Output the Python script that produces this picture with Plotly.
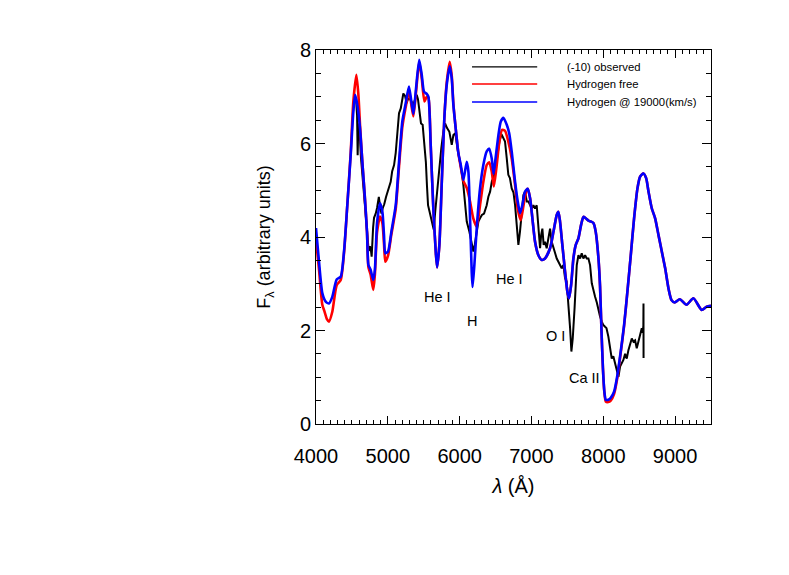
import plotly.graph_objects as go

# ---------------- data ----------------
obs_x = [4545, 4560, 4572, 4580, 4588, 4603, 4625, 4650, 4673, 4690, 4700, 4715, 4725, 4734, 4750, 4762, 4775,
         4785, 4795, 4808, 4831, 4850, 4864, 4875, 4890, 4911, 4930, 4950, 4976, 5000, 5020, 5040, 5060, 5087,
         5110, 5133, 5156, 5180, 5200, 5216, 5240, 5262, 5280, 5300, 5330, 5355, 5380, 5402, 5420, 5439, 5462,
         5485, 5514, 5530, 5545, 5560, 5580, 5600, 5615, 5639, 5660, 5690, 5718, 5745, 5773, 5797, 5825, 5857,
         5875, 5890, 5913, 5940, 5969, 5995, 6029, 6052, 6075, 6099, 6136, 6168, 6191, 6210, 6238, 6261, 6284,
         6310, 6340, 6377, 6400, 6424, 6450, 6470, 6493, 6526, 6554, 6582, 6609, 6632, 6656, 6678, 6700, 6725,
         6750, 6772, 6795, 6818, 6840, 6864, 6888, 6911, 6935, 6958, 6981, 7004, 7027, 7050, 7073, 7097, 7120,
         7135, 7152, 7170, 7189, 7212, 7236, 7259, 7282, 7306, 7330, 7352, 7375, 7398, 7421, 7445, 7468, 7490,
         7515, 7538, 7556, 7575, 7600, 7617, 7631, 7654, 7677, 7700, 7723, 7747, 7770, 7793, 7816, 7840, 7862,
         7886, 7910, 7932, 7955, 7979, 8000, 8025, 8045, 8071, 8095, 8118, 8140, 8164, 8188, 8211, 8234, 8257,
         8280, 8304, 8327, 8350, 8373, 8397, 8420, 8443, 8466, 8490, 8513, 8536, 8548, 8558, 8560, 8561]
obs_y = [6.95, 6.90, 6.60, 5.75, 6.30, 6.43, 5.72, 5.22, 4.73, 4.45, 4.30, 4.01, 3.85, 3.70, 3.80, 3.75, 3.58,
         3.95, 4.20, 4.41, 4.50, 4.62, 4.73, 4.86, 4.68, 4.50, 4.62, 4.70, 4.86, 5.00, 5.10, 5.18, 5.40, 5.54,
         5.80, 6.29, 6.65, 6.75, 6.90, 7.07, 7.02, 6.86, 6.95, 6.97, 6.90, 6.83, 6.95, 7.04, 6.95, 6.75, 6.43,
         6.40, 5.90, 5.60, 5.10, 4.68, 4.55, 4.40, 4.26, 4.16, 4.54, 5.04, 5.54, 5.90, 6.25, 6.43, 6.33, 6.25,
         6.10, 5.97, 6.18, 6.22, 5.90, 5.68, 5.40, 5.11, 4.68, 4.33, 4.11, 3.83, 3.69, 3.83, 4.11, 4.33, 4.40,
         4.47, 4.50, 4.68, 4.86, 4.97, 5.20, 5.26, 5.40, 5.75, 6.04, 6.20, 6.11, 6.04, 5.68, 5.33, 5.26, 5.04,
         4.95, 4.68, 4.26, 3.83, 4.11, 4.61, 4.90, 4.97, 4.76, 4.76, 4.68, 4.61, 4.68, 4.61, 4.68, 4.11, 3.76,
         4.04, 4.18, 3.83, 3.90, 3.76, 3.97, 4.18, 3.90, 3.76, 3.61, 3.54, 3.47, 3.40, 3.33, 3.40, 3.12, 3.05,
         2.62, 2.05, 1.55, 1.83, 2.47, 3.05, 3.40, 3.61, 3.54, 3.65, 3.54, 3.61, 3.54, 3.54, 3.40, 3.01, 2.85,
         2.72, 2.60, 2.44, 2.30, 2.19, 2.12, 2.08, 2.05, 1.87, 1.58, 1.40, 1.45, 1.30, 1.15, 1.01, 1.23, 1.30,
         1.37, 1.50, 1.40, 1.58, 1.70, 1.83, 1.76, 1.79, 1.62, 1.76, 1.90, 2.05, 1.95, 2.10, 2.58, 1.41]

hfree_x = [4000, 4042, 4088, 4120, 4150, 4181, 4227, 4288, 4344, 4390, 4436, 4483, 4520, 4562, 4590, 4613, 4645,
           4678, 4710, 4730, 4760, 4798, 4820, 4850, 4891, 4924, 4947, 4965, 5003, 5049, 5110, 5156, 5202, 5249,
           5295, 5355, 5393, 5437, 5472, 5510, 5542, 5565, 5597, 5634, 5667, 5686, 5718, 5750, 5787, 5820, 5862,
           5890, 5913, 5950, 5982, 6015, 6052, 6099, 6145, 6190, 6238, 6284, 6330, 6377, 6412, 6447, 6476, 6510,
           6550, 6590, 6632, 6678, 6725, 6772, 6809, 6851, 6890, 6930, 6948, 6981, 7013, 7050, 7097, 7143, 7189,
           7259, 7306, 7352, 7375, 7398, 7430, 7468, 7500, 7524, 7552, 7584, 7617, 7654, 7691, 7723, 7756, 7793,
           7830, 7863, 7895, 7933, 7955, 7975, 7995, 8015, 8035, 8070, 8104, 8150, 8197, 8243, 8290, 8336, 8383,
           8429, 8476, 8513, 8559, 8597, 8630, 8676, 8722, 8769, 8815, 8862, 8908, 8950, 8995, 9065, 9160, 9255,
           9370, 9440, 9500]
hfree_y = [3.95, 3.30, 2.55, 2.40, 2.25, 2.19, 2.40, 2.97, 3.08, 3.65, 4.68, 5.80, 6.90, 7.47, 7.05, 6.40, 5.61,
           4.90, 4.11, 3.35, 3.20, 2.87, 3.20, 4.10, 4.44, 4.30, 3.85, 3.47, 3.60, 4.05, 4.60, 5.50, 6.35, 6.78,
           7.12, 6.58, 7.10, 7.75, 7.40, 6.90, 7.00, 6.98, 5.97, 4.60, 3.69, 3.35, 3.83, 5.11, 6.54, 7.30, 7.75,
           7.45, 6.85, 6.25, 5.80, 5.50, 5.20, 5.05, 4.76, 4.40, 4.22, 4.68, 5.18, 5.54, 5.60, 5.40, 5.08, 5.45,
           6.00, 6.29, 6.27, 6.04, 5.68, 5.11, 4.60, 4.36, 4.68, 5.00, 5.03, 4.83, 4.40, 3.90, 3.61, 3.51, 3.54,
           3.76, 4.11, 4.47, 4.54, 4.33, 3.83, 3.26, 2.83, 2.69, 2.97, 3.54, 3.83, 3.97, 4.26, 4.43, 4.40, 4.35,
           4.33, 4.30, 4.11, 3.54, 2.95, 2.00, 1.20, 0.68, 0.48, 0.47, 0.50, 0.64, 1.00, 1.52, 2.10, 2.83, 3.61,
           4.40, 5.04, 5.29, 5.36, 5.26, 4.97, 4.61, 4.40, 4.04, 3.69, 3.33, 2.90, 2.65, 2.60, 2.67, 2.55, 2.69,
           2.44, 2.51, 2.53]

hyd_x = [4000, 4042, 4088, 4135, 4181, 4227, 4288, 4344, 4390, 4436, 4483, 4520, 4545, 4576, 4613, 4645, 4678,
         4710, 4730, 4760, 4798, 4820, 4850, 4891, 4924, 4947, 4965, 5003, 5049, 5110, 5156, 5202, 5249, 5295,
         5355, 5393, 5437, 5472, 5504, 5542, 5565, 5597, 5634, 5667, 5686, 5718, 5750, 5787, 5820, 5862, 5890,
         5913, 5950, 5982, 6015, 6052, 6099, 6122, 6145, 6168, 6180, 6205, 6238, 6284, 6330, 6377, 6412, 6447,
         6472, 6500, 6540, 6573, 6609, 6656, 6690, 6725, 6772, 6809, 6841, 6873, 6911, 6948, 6981, 7013, 7050,
         7097, 7143, 7189, 7259, 7306, 7352, 7375, 7398, 7430, 7468, 7500, 7524, 7552, 7584, 7617, 7654, 7691,
         7723, 7756, 7793, 7830, 7863, 7895, 7933, 7955, 7975, 7995, 8015, 8035, 8070, 8104, 8150, 8197, 8243,
         8290, 8336, 8383, 8429, 8476, 8513, 8559, 8597, 8630, 8676, 8722, 8769, 8815, 8862, 8908, 8950, 8995,
         9065, 9160, 9255, 9370, 9440, 9500]
hyd_y = [4.19, 3.47, 2.80, 2.62, 2.58, 2.72, 3.09, 3.15, 3.69, 4.68, 5.75, 6.68, 7.04, 6.82, 6.32, 5.61, 4.90,
         4.11, 3.40, 3.30, 3.08, 3.30, 4.30, 4.72, 4.54, 4.04, 3.65, 3.69, 4.11, 4.68, 5.61, 6.47, 6.86, 7.22,
         6.63, 7.18, 7.79, 7.47, 7.11, 7.06, 7.00, 5.97, 4.60, 3.69, 3.35, 3.83, 5.11, 6.54, 7.25, 7.65, 7.39,
         6.82, 6.25, 5.80, 5.55, 5.22, 5.61, 5.40, 4.40, 3.26, 2.93, 3.40, 4.19, 5.04, 5.54, 5.83, 5.89, 5.68,
         5.35, 5.68, 6.18, 6.47, 6.55, 6.40, 6.22, 5.83, 5.18, 4.76, 4.51, 4.68, 4.97, 5.03, 4.83, 4.40, 3.90,
         3.61, 3.51, 3.54, 3.76, 4.11, 4.47, 4.54, 4.33, 3.83, 3.26, 2.83, 2.69, 2.97, 3.54, 3.83, 3.97, 4.26,
         4.43, 4.40, 4.35, 4.33, 4.30, 4.11, 3.54, 2.95, 2.00, 1.20, 0.70, 0.52, 0.52, 0.56, 0.69, 1.05, 1.55,
         2.12, 2.83, 3.61, 4.40, 5.04, 5.29, 5.36, 5.26, 4.97, 4.61, 4.40, 4.04, 3.69, 3.33, 2.90, 2.65, 2.60,
         2.67, 2.55, 2.69, 2.44, 2.51, 2.53]

series_names = ["(-10) observed", "Hydrogen free", "Hydrogen @ 19000(km/s)"]
series_colors = ["#000000", "#ff0000", "#0000ff"]

line_labels = ["He I", "H", "He I", "O I", "Ca II"]
line_label_x = [5690, 6175, 6700, 7335, 7740]
line_label_y = [2.72, 2.20, 3.10, 1.88, 0.98]

x_ticks = [4000, 5000, 6000, 7000, 8000, 9000]
y_ticks = [0, 2, 4, 6, 8]

FONT = "Liberation Sans, Arial, Helvetica, sans-serif"

fig = go.Figure()
fig.add_trace(go.Scatter(x=obs_x, y=obs_y, mode="lines", name=series_names[0],
                         line=dict(color=series_colors[0], width=2), showlegend=False))
fig.add_trace(go.Scatter(x=hfree_x, y=hfree_y, mode="lines", name=series_names[1],
                         line=dict(color=series_colors[1], width=2.6, shape="spline", smoothing=0.6),
                         showlegend=False))
fig.add_trace(go.Scatter(x=hyd_x, y=hyd_y, mode="lines", name=series_names[2],
                         line=dict(color=series_colors[2], width=2.6, shape="spline", smoothing=0.6),
                         showlegend=False))

# spectral line labels
for t, xx, yy in zip(line_labels, line_label_x, line_label_y):
    fig.add_annotation(x=xx, y=yy, text=t, showarrow=False,
                       font=dict(family=FONT, size=14.5, color="black"))

# manual legend (long line samples, as in the original)
leg_y = [0.955, 0.909, 0.861]
for name, col, ly in zip(series_names, series_colors, leg_y):
    fig.add_shape(type="line", xref="paper", yref="paper", x0=0.395, x1=0.56, y0=ly, y1=ly,
                  line=dict(color=col, width=1.4))
    fig.add_annotation(xref="paper", yref="paper", x=0.63, y=ly, text=name, showarrow=False,
                       xanchor="left", yanchor="middle", font=dict(family=FONT, size=11.3, color="black"))

axis_common = dict(showgrid=False, zeroline=False, showline=True, linecolor="black", linewidth=1,
                   mirror="ticks", ticks="inside", tickcolor="black", tickfont=dict(family=FONT, size=20,
                                                                                     color="black"))

fig.update_xaxes(range=[4000, 9500], tickvals=x_ticks, ticklen=8, tickwidth=1,
                 minor=dict(dtick=100, ticks="inside", ticklen=4, tickcolor="black", showgrid=False),
                 ticklabelstandoff=14,
                 title=dict(text="<i>λ</i> (Å)", font=dict(family=FONT, size=20, color="black"), standoff=12),
                 **axis_common)
fig.update_yaxes(range=[0, 8], tickvals=y_ticks, ticklen=9, tickwidth=1,
                 minor=dict(dtick=0.5, ticks="inside", ticklen=5, tickcolor="black", showgrid=False),
                 ticklabelstandoff=0,
                 title=dict(text="F<sub>λ</sub> (arbitrary units)", font=dict(family=FONT, size=18, color="black"),
                            standoff=24),
                 **axis_common)

fig.update_layout(width=789, height=575, margin=dict(l=308, r=86, t=42, b=159, autoexpand=False),
                  plot_bgcolor="white", paper_bgcolor="white", showlegend=False,
                  font=dict(family=FONT, color="black"))

fig.write_html("out.html")
